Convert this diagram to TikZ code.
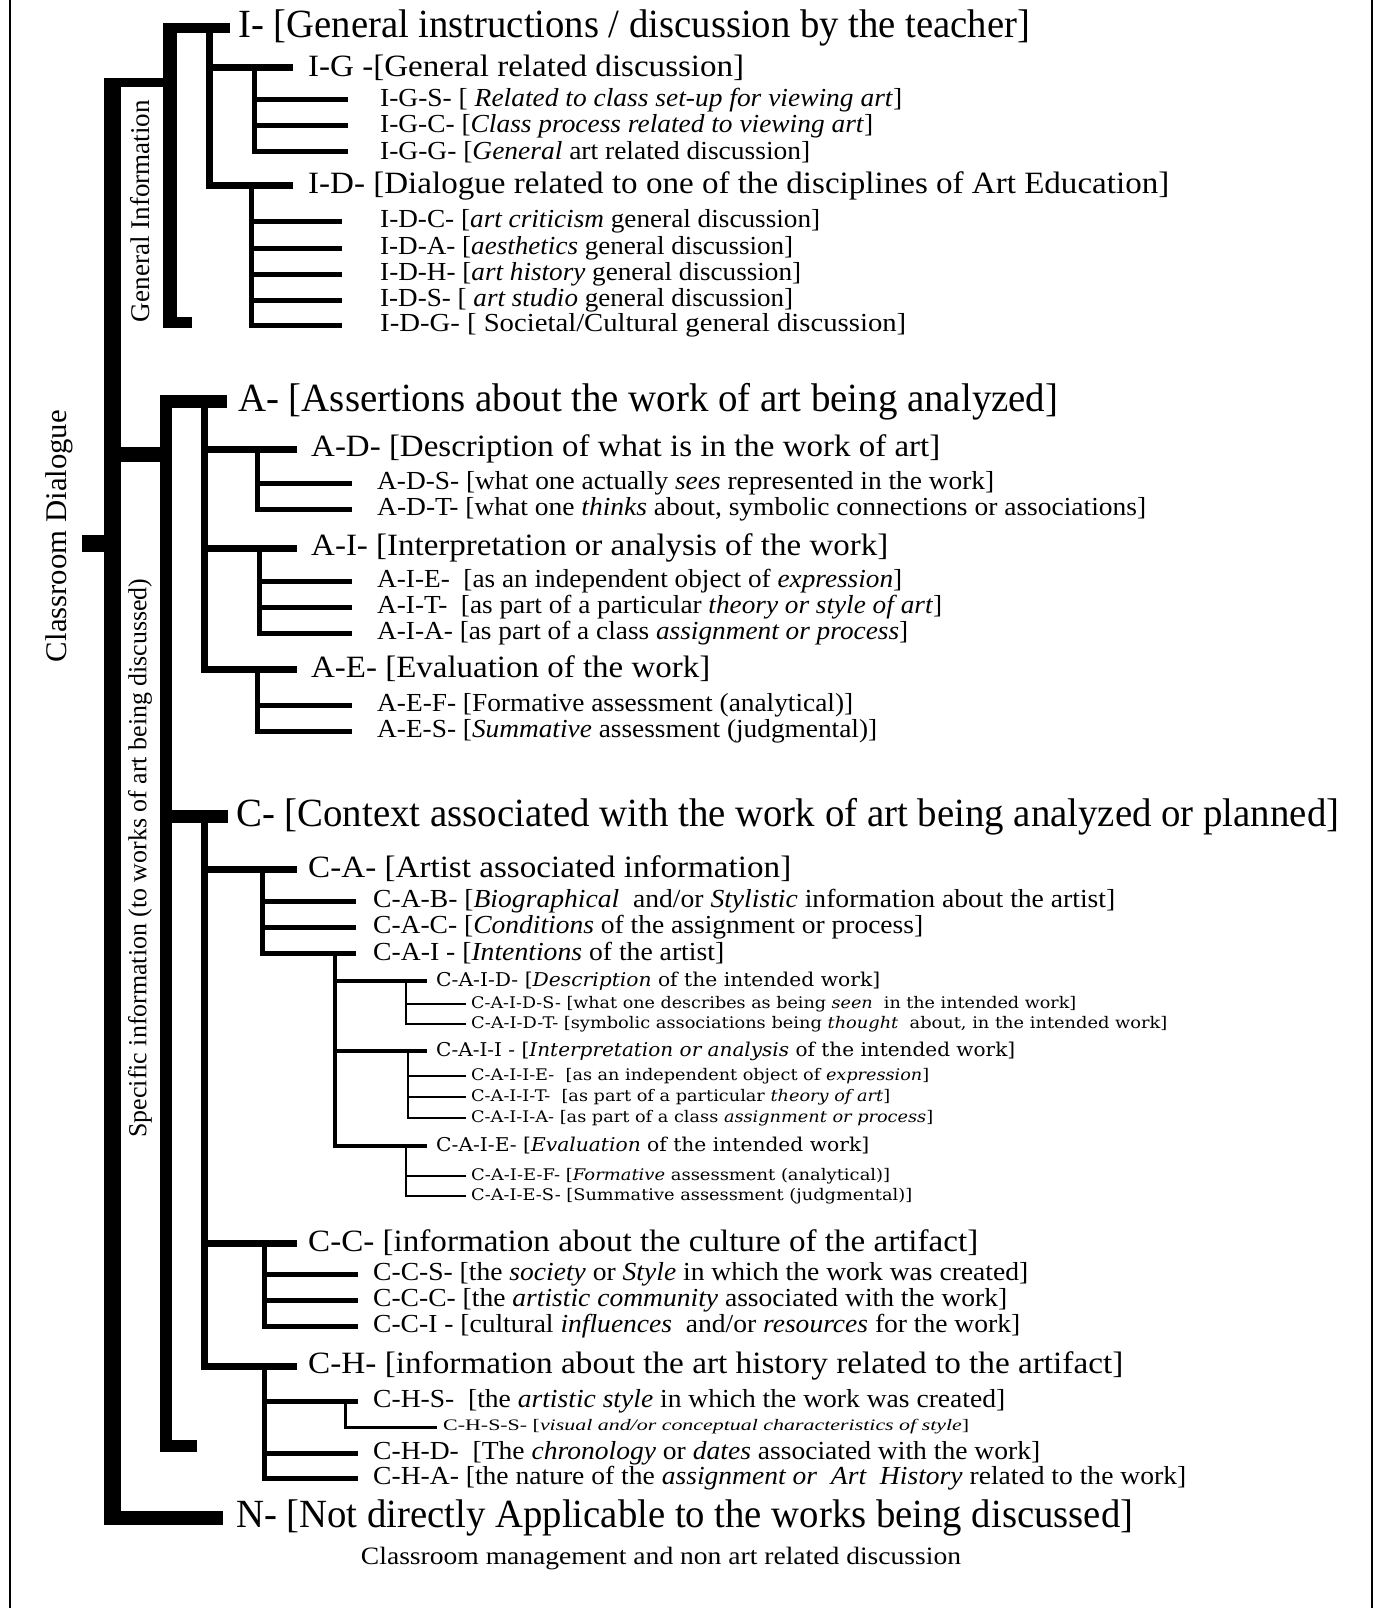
\documentclass[tikz,border=0pt]{standalone}
\usepackage{fontspec}
\setmainfont{Liberation Serif}
\newfontfamily\wideserif{DejaVu Serif}
\usepackage{graphicx}
\newcommand\fw[2]{\resizebox{#1pt}{\height}{#2}}
\tikzset{
  t0/.style={anchor=west, inner sep=0pt, font=\fontsize{40}{40}\selectfont},
  t1/.style={anchor=west, inner sep=0pt, font=\fontsize{31}{31}\selectfont},
  t2/.style={anchor=west, inner sep=0pt, font=\fontsize{26}{26}\selectfont},
  t3/.style={anchor=west, inner sep=0pt, font=\wideserif\fontsize{19}{19}\selectfont},
  t4/.style={anchor=west, inner sep=0pt, font=\wideserif\fontsize{16}{16}\selectfont},
  t5/.style={anchor=west, inner sep=0pt, font=\fontsize{16}{16}\selectfont\itshape},
  vlab/.style={rotate=90, inner sep=0pt},
  w0/.style={line width=13pt, line cap=butt, line join=miter},
  w1/.style={line width=7pt, line cap=butt, line join=miter},
  w2/.style={line width=5pt, line cap=butt, line join=miter},
  w3/.style={line width=3.5pt, line cap=butt, line join=miter},
  w4/.style={line width=2.5pt, line cap=butt, line join=miter},
}
\begin{document}
\begin{tikzpicture}[x=1pt,y=-1pt]
\useasboundingbox (0,0) rectangle (1382,1608);
\draw[line width=2pt] (10,0) -- (10,1608);
\draw[line width=2pt] (1372,0) -- (1372,1608);

% ---------- texts ----------
\node[t0] (I0) at (238,28) {\fw{792}{I- [General instructions / discussion by the teacher]}};
\node[t1] (IG) at (308,67.5) {\fw{436}{I-G -[General related discussion]}};
\node[t2] (IGS) at (380,100) {\fw{522}{I-G-S- [ \textit{Related to class set-up for viewing art}]}};
\node[t2] (IGC) at (380,126) {\fw{493}{I-G-C- [\textit{Class process related to viewing art}]}};
\node[t2] (IGG) at (380,152) {\fw{430}{I-G-G- [\textit{General} art related discussion]}};
\node[t1] (ID) at (308,185.5) {\fw{861}{I-D- [Dialogue related to one of the disciplines of Art Education]}};
\node[t2] (IDC) at (380,221) {\fw{440}{I-D-C- [\textit{art criticism} general discussion]}};
\node[t2] (IDA) at (380,248) {\fw{413}{I-D-A- [\textit{aesthetics} general discussion]}};
\node[t2] (IDH) at (380,274) {\fw{421}{I-D-H- [\textit{art history} general discussion]}};
\node[t2] (IDS) at (380,300) {\fw{413}{I-D-S- [ \textit{art studio} general discussion]}};
\node[t2] (IDG) at (380,325) {\fw{526}{I-D-G- [ Societal/Cultural general discussion]}};

\node[t0] (A0) at (238,401.5) {\fw{820}{A- [Assertions about the work of art being analyzed]}};
\node[t1] (AD) at (311,449) {\fw{629}{A-D- [Description of what is in the work of art]}};
\node[t2] (ADS) at (377,483) {\fw{617}{A-D-S- [what one actually \textit{sees} represented in the work]}};
\node[t2] (ADT) at (377,509) {\fw{769}{A-D-T- [what one \textit{thinks} about, symbolic connections or associations]}};
\node[t1] (AI) at (311,548) {\fw{577}{A-I- [Interpretation or analysis of the work]}};
\node[t2] (AIE) at (377,581) {\fw{525}{A-I-E-\ \ [as an independent object of \textit{expression}]}};
\node[t2] (AIT) at (377,607) {\fw{565}{A-I-T-\ \ [as part of a particular \textit{theory or style of art}]}};
\node[t2] (AIA) at (377,633) {\fw{531}{A-I-A- [as part of a class \textit{assignment or process}]}};
\node[t1] (AE) at (311,669) {\fw{399}{A-E- [Evaluation of the work]}};
\node[t2] (AEF) at (377,705) {\fw{476}{A-E-F- [Formative assessment (analytical)]}};
\node[t2] (AES) at (377,731) {\fw{500}{A-E-S- [\textit{Summative} assessment (judgmental)]}};

\node[t0] (C0) at (236,816.5) {\fw{1103}{C- [Context associated with the work of art being analyzed or planned]}};
\node[t1] (CA) at (308,869) {\fw{483}{C-A- [Artist associated information]}};
\node[t2] (CAB) at (373,901) {\fw{742}{C-A-B- [\textit{Biographical}\ \ and/or \textit{Stylistic} information about the artist]}};
\node[t2] (CAC) at (373,927) {\fw{550}{C-A-C- [\textit{Conditions} of the assignment or process]}};
\node[t2] (CAI) at (373,953) {\fw{351}{C-A-I - [\textit{Intentions} of the artist]}};
\node[t3] (CAID) at (436,981) {\fw{444}{C-A-I-D- [\textit{Description} of the intended work]}};
\node[t4] (CAIDS) at (471,1004) {\fw{605}{C-A-I-D-S- [what one describes as being \textit{seen}\ \ in the intended work]}};
\node[t4] (CAIDT) at (471,1024) {\fw{696}{C-A-I-D-T- [symbolic associations being \textit{thought}\ \ about, in the intended work]}};
\node[t3] (CAII) at (436,1051) {\fw{579}{C-A-I-I - [\textit{Interpretation or analysis} of the intended work]}};
\node[t4] (CAIIE) at (471,1076) {\fw{458}{C-A-I-I-E-\ \ [as an independent object of \textit{expression}]}};
\node[t4] (CAIIT) at (471,1097) {\fw{419}{C-A-I-I-T-\ \ [as part of a particular \textit{theory of art}]}};
\node[t4] (CAIIA) at (471,1118) {\fw{462}{C-A-I-I-A- [as part of a class \textit{assignment or process}]}};
\node[t3] (CAIE) at (436,1146) {\fw{433}{C-A-I-E- [\textit{Evaluation} of the intended work]}};
\node[t4] (CAIEF) at (471,1176) {\fw{419}{C-A-I-E-F- [\textit{Formative} assessment (analytical)]}};
\node[t4] (CAIES) at (471,1196) {\fw{441}{C-A-I-E-S- [Summative assessment (judgmental)]}};
\node[t1] (CC) at (308,1243) {\fw{670}{C-C- [information about the culture of the artifact]}};
\node[t2] (CCS) at (373,1274) {\fw{655}{C-C-S- [the \textit{society} or \textit{Style} in which the work was created]}};
\node[t2] (CCC) at (373,1300) {\fw{634}{C-C-C- [the \textit{artistic community} associated with the work]}};
\node[t2] (CCI) at (373,1326) {\fw{647}{C-C-I - [cultural \textit{influences}\ \ and/or \textit{resources} for the work]}};
\node[t1] (CH) at (308,1366) {\fw{815}{C-H- [information about the art history related to the artifact]}};
\node[t2] (CHS) at (373,1401) {\fw{632}{C-H-S-\ \ [the \textit{artistic style} in which the work was created]}};
\node[t5] (CHSS) at (443,1427) {\fw{526}{\upshape C-H-S-S- [\itshape visual and/or conceptual characteristics of style\upshape]}};
\node[t2] (CHD) at (373,1453) {\fw{667}{C-H-D-\ \ [The \textit{chronology} or \textit{dates} associated with the work]}};
\node[t2] (CHA) at (373,1478) {\fw{813}{C-H-A- [the nature of the \textit{assignment or\ \ Art\ \ History} related to the work]}};

\node[t0] (N0) at (236,1518) {\fw{897}{N- [Not directly Applicable to the works being discussed]}};
\node[inner sep=0pt, font=\fontsize{25}{25}\selectfont] (Nsub) at (661,1559) {\fw{600}{Classroom management and non art related discussion}};

\node[vlab, font=\fontsize{30}{30}\selectfont] (lCD) at (59,536) {\fw{252}{Classroom Dialogue}};
\node[vlab, font=\fontsize{27}{27}\selectfont] (lGI) at (140,211) {\fw{222}{General Information}};
\node[vlab, font=\fontsize{26}{26}\selectfont] (lSI) at (140,858) {\fw{559}{Specific information (to works of art being discussed)}};

% ---------- bar positions ----------
\coordinate (xR) at (112.5,0);
\coordinate (xG) at (170,0);
\coordinate (xS) at (166,0);
\coordinate (xI1) at (209,0);
\coordinate (xA1) at (204.5,0);
\coordinate (xC1) at (204.5,0);
\coordinate (xIG) at (254.5,0);
\coordinate (xID) at (251,0);
\coordinate (xAD) at (257.5,0);
\coordinate (xAI) at (259.5,0);
\coordinate (xAE) at (257.5,0);
\coordinate (xCA) at (262.5,0);
\coordinate (xCC) at (264.5,0);
\coordinate (xCH) at (264.5,0);
\coordinate (xCAI) at (335,0);
\coordinate (xCAID) at (406,0);
\coordinate (xCAII) at (408,0);
\coordinate (xCAIE) at (406,0);
\coordinate (xCHS) at (345,0);
\coordinate (eI1) at (293,0);
\coordinate (eA1) at (297,0);
\coordinate (eIG) at (348,0);
\coordinate (eID) at (342,0);
\coordinate (eA2) at (352,0);
\coordinate (eCA) at (356,0);
\coordinate (eC2) at (358,0);
\coordinate (eL3) at (427,0);
\coordinate (eL4) at (466,0);
\coordinate (eCHS) at (437,0);

% ---------- root and section bars ----------
\fill (104,78) rectangle (121,1525);
\fill (82,535) rectangle (104,552);
\fill (121,78) rectangle (170,87);
\fill (163,23) rectangle (177,328);
\fill (177,317) rectangle (192,328);
\fill (121,447) rectangle (166,462);
\fill (160,395) rectangle (172,1452);
\fill (172,1440) rectangle (197,1452);
\draw[line width=10pt, line cap=butt] (xG |- I0.west) -- ([xshift=-8pt]I0.west);
\draw[w0] (xS |- A0.west) -- ([xshift=-11pt]A0.west);
\draw[w0] (xS |- C0.west) -- ([xshift=-8pt]C0.west);
\draw[line width=14pt, line cap=butt] (xR |- N0.west) -- ([xshift=-13pt]N0.west);

% ---------- I section ----------
\draw[w1] (xI1 |- I0.west) -- (xI1 |- ID.west) -- (ID.west -| eI1);
\draw[w1] (xI1 |- IG.west) -- (IG.west -| eI1);
\draw[w2] (xIG |- IG.west) -- (xIG |- IGG.west) -- (IGG.west -| eIG);
\draw[w2] (xIG |- IGS.west) -- (IGS.west -| eIG);
\draw[w2] (xIG |- IGC.west) -- (IGC.west -| eIG);
\draw[w2] (xID |- ID.west) -- (xID |- IDG.west) -- (IDG.west -| eID);
\draw[w2] (xID |- IDC.west) -- (IDC.west -| eID);
\draw[w2] (xID |- IDA.west) -- (IDA.west -| eID);
\draw[w2] (xID |- IDH.west) -- (IDH.west -| eID);
\draw[w2] (xID |- IDS.west) -- (IDS.west -| eID);

% ---------- A section ----------
\draw[w1] (xA1 |- A0.west) -- (xA1 |- AE.west) -- (AE.west -| eA1);
\draw[w1] (xA1 |- AD.west) -- (AD.west -| eA1);
\draw[w1] (xA1 |- AI.west) -- (AI.west -| eA1);
\draw[w2] (xAD |- AD.west) -- (xAD |- ADT.west) -- (ADT.west -| eA2);
\draw[w2] (xAD |- ADS.west) -- (ADS.west -| eA2);
\draw[w2] (xAI |- AI.west) -- (xAI |- AIA.west) -- (AIA.west -| eA2);
\draw[w2] (xAI |- AIE.west) -- (AIE.west -| eA2);
\draw[w2] (xAI |- AIT.west) -- (AIT.west -| eA2);
\draw[w2] (xAE |- AE.west) -- (xAE |- AES.west) -- (AES.west -| eA2);
\draw[w2] (xAE |- AEF.west) -- (AEF.west -| eA2);

% ---------- C section ----------
\draw[w1] (xC1 |- C0.west) -- (xC1 |- CH.west) -- (CH.west -| eA1);
\draw[w1] (xC1 |- CA.west) -- (CA.west -| eA1);
\draw[w1] (xC1 |- CC.west) -- (CC.west -| eA1);
\draw[w2] (xCA |- CA.west) -- (xCA |- CAI.west) -- (CAI.west -| eCA);
\draw[w2] (xCA |- CAB.west) -- (CAB.west -| eCA);
\draw[w2] (xCA |- CAC.west) -- (CAC.west -| eCA);
\draw[w3] (xCAI |- CAI.west) -- (xCAI |- CAIE.west) -- (CAIE.west -| eL3);
\draw[w3] (xCAI |- CAID.west) -- (CAID.west -| eL3);
\draw[w3] (xCAI |- CAII.west) -- (CAII.west -| eL3);
\draw[w4] (xCAID |- CAID.west) -- (xCAID |- CAIDT.west) -- (CAIDT.west -| eL4);
\draw[w4] (xCAID |- CAIDS.west) -- (CAIDS.west -| eL4);
\draw[w4] (xCAII |- CAII.west) -- (xCAII |- CAIIA.west) -- (CAIIA.west -| eL4);
\draw[w4] (xCAII |- CAIIE.west) -- (CAIIE.west -| eL4);
\draw[w4] (xCAII |- CAIIT.west) -- (CAIIT.west -| eL4);
\draw[w4] (xCAIE |- CAIE.west) -- (xCAIE |- CAIES.west) -- (CAIES.west -| eL4);
\draw[w4] (xCAIE |- CAIEF.west) -- (CAIEF.west -| eL4);
\draw[w2] (xCC |- CC.west) -- (xCC |- CCI.west) -- (CCI.west -| eC2);
\draw[w2] (xCC |- CCS.west) -- (CCS.west -| eC2);
\draw[w2] (xCC |- CCC.west) -- (CCC.west -| eC2);
\draw[w2] (xCH |- CH.west) -- (xCH |- CHA.west) -- (CHA.west -| eC2);
\draw[w2] (xCH |- CHS.west) -- (CHS.west -| eC2);
\draw[w2] (xCH |- CHD.west) -- (CHD.west -| eC2);
\draw[line width=3pt, line cap=butt, line join=miter] (xCHS |- CHS.west) -- (xCHS |- CHSS.west) -- (CHSS.west -| eCHS);
\end{tikzpicture}
\end{document}
